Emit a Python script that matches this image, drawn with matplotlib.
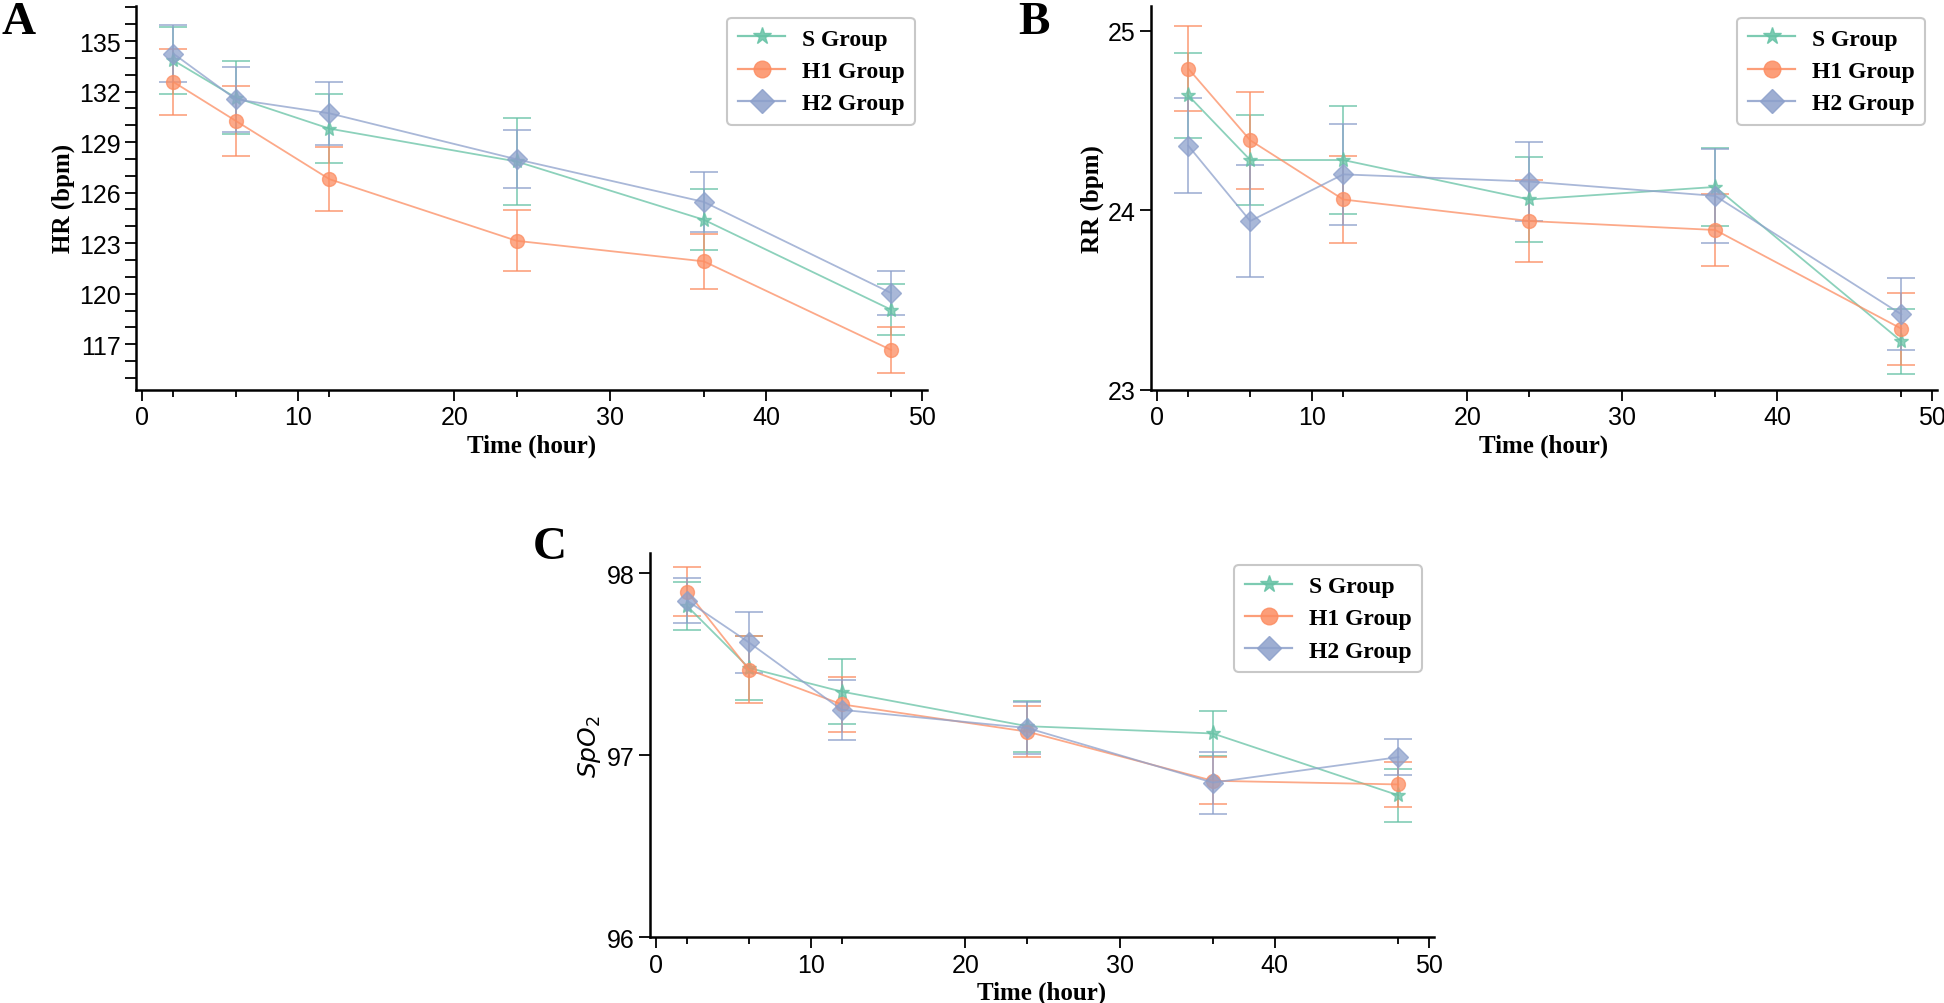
import matplotlib
matplotlib.use('Agg')
import matplotlib.pyplot as plt
from matplotlib.lines import Line2D
from matplotlib.ticker import MultipleLocator, FixedLocator

# time points (hour)
time = [2, 6, 12, 24, 36, 48]
groups = ['S Group', 'H1 Group', 'H2 Group']

# HR (bpm), mean and error
hr_s = [133.85, 131.64, 129.80, 127.85, 124.39, 119.05]
hr_s_err = [1.97, 2.15, 2.05, 2.6, 1.82, 1.53]
hr_h1 = [132.57, 130.26, 126.80, 123.14, 121.92, 116.66]
hr_h1_err = [1.95, 2.1, 1.9, 1.8, 1.63, 1.35]
hr_h2 = [134.25, 131.54, 130.71, 127.98, 125.45, 120.04]
hr_h2_err = [1.7, 1.95, 1.88, 1.73, 1.78, 1.3]

# RR (bpm)
rr_s = [24.64, 24.28, 24.28, 24.06, 24.13, 23.27]
rr_s_err = [0.235, 0.25, 0.30, 0.235, 0.215, 0.18]
rr_h1 = [24.79, 24.39, 24.06, 23.94, 23.89, 23.34]
rr_h1_err = [0.235, 0.27, 0.24, 0.23, 0.20, 0.20]
rr_h2 = [24.36, 23.94, 24.20, 24.16, 24.08, 23.42]
rr_h2_err = [0.265, 0.31, 0.28, 0.22, 0.26, 0.20]

# SpO2
spo2_s = [97.82, 97.48, 97.35, 97.16, 97.12, 96.78]
spo2_s_err = [0.13, 0.175, 0.18, 0.14, 0.125, 0.145]
spo2_h1 = [97.90, 97.47, 97.28, 97.13, 96.86, 96.84]
spo2_h1_err = [0.135, 0.185, 0.15, 0.14, 0.13, 0.125]
spo2_h2 = [97.85, 97.62, 97.25, 97.15, 96.85, 96.99]
spo2_h2_err = [0.125, 0.17, 0.165, 0.145, 0.17, 0.10]

colors = ['#66c2a5', '#fc8d62', '#8da0cb']
markers = ['*', 'o', 'D']
sizes = [11, 10, 10]

tick_font = 'Liberation Sans'
label_font = 'Liberation Serif'

fig = plt.figure(figsize=(19.44, 10.04), dpi=100)
W, H = 1944, 1004


def make_axes(left, top, right, bottom):
    return fig.add_axes([left / W, 1 - bottom / H, (right - left) / W, (bottom - top) / H])


def draw_panel(ax, series, errs, ylim, yticks, ylabel, minor_y=None, ylabel_math=False):
    handles = []
    for vals, err, c, m, s, lab in zip(series, errs, colors, markers, sizes, groups):
        ax.errorbar(time, vals, yerr=err, color=c, marker=m, ms=s, mec=c, mfc=c,
                    lw=1.3, elinewidth=1.3, capsize=10, capthick=1.3, alpha=0.75)
        handles.append(Line2D([], [], color=c, marker=m, ms=s + 2, mec=c, mfc=c,
                              lw=1.6, alpha=0.85, label=lab))
    ax.set_xlim(-0.4, 50.3)
    ax.set_ylim(*ylim)
    ax.set_xticks([0, 10, 20, 30, 40, 50])
    ax.xaxis.set_minor_locator(FixedLocator(time))
    ax.set_yticks(yticks)
    if minor_y:
        ax.yaxis.set_minor_locator(MultipleLocator(minor_y))
        ax.tick_params(axis='y', which='minor', length=8, width=1.3)
    for sp in ['top', 'right']:
        ax.spines[sp].set_visible(False)
    for sp in ['left', 'bottom']:
        ax.spines[sp].set_linewidth(1.8)
    ax.tick_params(axis='both', which='major', length=8, width=1.3, labelsize=18, pad=3)
    ax.tick_params(axis='x', which='minor', length=5, width=1.3)
    for lbl in ax.get_xticklabels() + ax.get_yticklabels():
        lbl.set_fontfamily(tick_font)
    ax.set_xlabel('Time (hour)', fontfamily=label_font, fontweight='bold', fontsize=18, labelpad=3)
    if ylabel_math:
        ax.set_ylabel(ylabel, fontsize=18, labelpad=3)
    else:
        ax.set_ylabel(ylabel, fontfamily=label_font, fontweight='bold', fontsize=18, labelpad=3)
    leg = ax.legend(handles=handles, loc='upper right',
                    prop={'family': label_font, 'weight': 'bold', 'size': 17},
                    fancybox=True, edgecolor='#c8c8c8', framealpha=1, labelspacing=0.45,
                    handlelength=2.0, handletextpad=0.7, borderpad=0.45)
    leg.get_frame().set_linewidth(1.5)


axA = make_axes(136, 6.7, 927, 390.7)
draw_panel(axA, [hr_s, hr_h1, hr_h2], [hr_s_err, hr_h1_err, hr_h2_err],
           (114.3, 137.1), [117, 120, 123, 126, 129, 132, 135], 'HR (bpm)', minor_y=1)

axB = make_axes(1151, 6.7, 1937, 390.7)
draw_panel(axB, [rr_s, rr_h1, rr_h2], [rr_s_err, rr_h1_err, rr_h2_err],
           (23.0, 25.14), [23, 24, 25], 'RR (bpm)')

axC = make_axes(650, 554.3, 1434, 938.3)
draw_panel(axC, [spo2_s, spo2_h1, spo2_h2], [spo2_s_err, spo2_h1_err, spo2_h2_err],
           (96.0, 98.11), [96, 97, 98], '$SpO_2$', ylabel_math=True)

for letter, x, y in [('A', 1, 2), ('B', 1018, 2), ('C', 533, 527)]:
    fig.text(x / W, 1 - y / H, letter, fontfamily=label_font, fontweight='bold',
             fontsize=34, ha='left', va='top')

fig.savefig('out.png', dpi=100)
